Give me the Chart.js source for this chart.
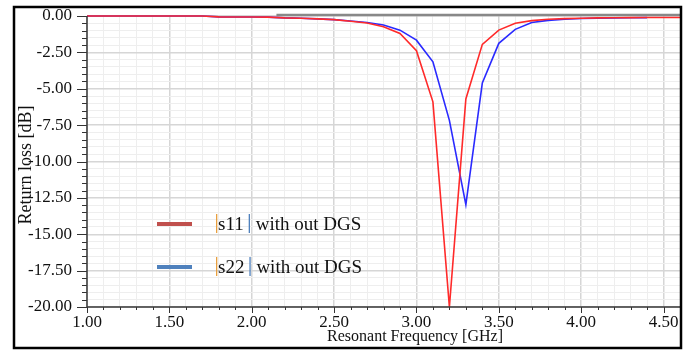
<!DOCTYPE html>
<html>
<head>
<meta charset="utf-8">
<script src="https://cdn.jsdelivr.net/npm/chart.js@4"></script>
<style>
html,body{margin:0;padding:0;background:#fff;}
#wrap{width:691px;height:350px;position:relative;}
</style>
</head>
<body>
<div id="wrap"><canvas id="c" width="691" height="350"></canvas></div>
<script>
// Frequencies (GHz)
const freqS11 = [1.0,1.1,1.2,1.3,1.4,1.5,1.6,1.7,1.8,1.9,2.0,2.1,2.2,2.3,2.4,2.5,2.6,2.7,2.8,2.9,3.0,3.1,3.2,3.3,3.4,3.5,3.6,3.7,3.8,3.9,4.0,4.1,4.2,4.3,4.4,4.5,4.6];
const s11 = [0,0,0,0,0,0,0,0,-0.06,-0.07,-0.07,-0.08,-0.13,-0.15,-0.2,-0.25,-0.36,-0.48,-0.74,-1.2,-2.39,-5.9,-20.0,-5.7,-1.95,-0.97,-0.5,-0.32,-0.22,-0.18,-0.15,-0.13,-0.12,-0.11,-0.1,-0.1,-0.1];
const freqS22 = [1.0,1.1,1.2,1.3,1.4,1.5,1.6,1.7,1.8,1.9,2.0,2.1,2.2,2.3,2.4,2.5,2.6,2.7,2.8,2.9,3.0,3.1,3.2,3.3,3.4,3.5,3.6,3.7,3.8,3.9,4.0,4.1,4.2,4.3,4.4];
const s22 = [0,0,0,0,0,0,0,0,-0.06,-0.07,-0.07,-0.08,-0.13,-0.15,-0.2,-0.25,-0.34,-0.45,-0.62,-0.97,-1.66,-3.15,-7.17,-12.97,-4.6,-1.88,-0.92,-0.45,-0.3,-0.22,-0.17,-0.15,-0.13,-0.12,-0.11];
const xTickLabels = ["1.00","1.50","2.00","2.50","3.00","3.50","4.00","4.50"];
const yTickLabels = ["0.00","-2.50","-5.00","-7.50","-10.00","-12.50","-15.00","-17.50","-20.00"];
const legendLabels = ["s11", "s22"];

const serif = '"Liberation Serif","DejaVu Serif",serif';
const near = (v, step) => Math.abs(v/step - Math.round(v/step)) < 1e-6;

const decor = {
  id: 'decor',
  beforeDatasetsDraw(chart) {
    const {ctx, chartArea: a, scales: {x, y}} = chart;
    ctx.save();
    ctx.strokeStyle = '#888';
    ctx.lineWidth = 2.5;
    ctx.beginPath();
    ctx.moveTo(x.getPixelForValue(2.15), a.top - 1);
    ctx.lineTo(a.right, a.top - 1);
    ctx.stroke();
    ctx.restore();
  },
  afterDraw(chart) {
    const {ctx, chartArea: a, scales: {x, y}} = chart;
    ctx.save();
    ctx.strokeStyle = '#333';
    ctx.lineWidth = 1;
    for (let v = 1.0; v <= 4.6001; v += 0.1) {
      const px = Math.round(x.getPixelForValue(v)) + 0.5;
      const major = near(v, 0.5);
      ctx.beginPath();
      ctx.moveTo(px, a.bottom);
      ctx.lineTo(px, a.bottom + (major ? 6 : 3));
      ctx.stroke();
    }
    for (let v = 0; v >= -20.0001; v -= 0.5) {
      const py = Math.round(y.getPixelForValue(v)) + 0.5;
      const major = near(v, 2.5);
      ctx.beginPath();
      ctx.moveTo(a.left, py);
      ctx.lineTo(a.left - (major ? 10 : 5), py);
      ctx.stroke();
    }
    ctx.strokeStyle = '#3a3a3a';
    ctx.lineWidth = 1.5;
    ctx.beginPath();
    ctx.moveTo(a.left, a.top);
    ctx.lineTo(a.left, a.bottom);
    ctx.lineTo(a.right, a.bottom);
    ctx.stroke();
    ctx.fillStyle = '#111';
    ctx.font = '16px ' + serif;
    ctx.textAlign = 'center';
    ctx.textBaseline = 'middle';
    ctx.fillText('Resonant Frequency [GHz]', 415, 337);
    ctx.save();
    ctx.translate(26, 165);
    ctx.rotate(-Math.PI/2);
    ctx.font = '18px ' + serif;
    ctx.fillText('Return loss [dB]', 0, 0);
    ctx.restore();
    const items = [
      {label: legendLabels[0], color: '#c0504d', y: 224},
      {label: legendLabels[1], color: '#4f81bd', y: 267}
    ];
    ctx.font = '19px ' + serif;
    ctx.textAlign = 'left';
    items.forEach(it => {
      ctx.strokeStyle = it.color;
      ctx.lineWidth = 4;
      ctx.beginPath();
      ctx.moveTo(157, it.y);
      ctx.lineTo(192, it.y);
      ctx.stroke();
      let tx = 216;
      ctx.fillStyle = '#e8a040';
      ctx.fillRect(tx, it.y - 10, 1.3, 19);
      tx += 2;
      ctx.fillStyle = '#111';
      ctx.fillText(it.label, tx, it.y + 1);
      tx += ctx.measureText(it.label).width + 5;
      ctx.fillStyle = '#4f81bd';
      ctx.fillRect(tx, it.y - 10, 1.3, 19);
      tx += 7;
      ctx.fillStyle = '#111';
      ctx.fillText('with out DGS', tx, it.y + 1);
    });
    ctx.strokeStyle = '#000';
    ctx.lineWidth = 2.5;
    ctx.strokeRect(14, 7, 667, 341);
    ctx.restore();
  }
};

new Chart(document.getElementById('c'), {
  type: 'line',
  data: {
    datasets: [
      {label: legendLabels[0], data: freqS11.map((f,i)=>({x:f, y:s11[i]})), borderColor: '#ff2a2a', borderWidth: 1.6, pointRadius: 0, tension: 0, fill: false},
      {label: legendLabels[1], data: freqS22.map((f,i)=>({x:f, y:s22[i]})), borderColor: '#2a2aff', borderWidth: 1.6, pointRadius: 0, tension: 0, fill: false}
    ]
  },
  options: {
    responsive: false,
    animation: false,
    clip: false,
    layout: {padding: {left: 13, right: 11, top: 16, bottom: 0}},
    plugins: {legend: {display: false}, tooltip: {enabled: false}},
    scales: {
      x: {
        type: 'linear', min: 1.0, max: 4.6,
        afterFit(s) { s.height = 43; s.paddingLeft = 0; s.paddingRight = 0; },
        afterBuildTicks(s) { const t=[]; for (let i=0;i<=36;i++) t.push({value: +(1+i*0.1).toFixed(1)}); s.ticks = t; },
        border: {display: false},
        grid: {
          drawTicks: false,
          color: c => near(c.tick.value, 0.5) ? '#d6d6d6' : '#eeeeee',
          lineWidth: c => near(c.tick.value, 0.5) ? 1.5 : 1
        },
        ticks: {
          autoSkip: false, maxRotation: 0, padding: 5,
          color: '#111', font: {family: serif, size: 17},
          callback: v => { if (!near(v,0.5)) return ''; const i = Math.round((v-1)/0.5); return xTickLabels[i] ?? ''; }
        }
      },
      y: {
        type: 'linear', min: -20, max: 0,
        afterFit(s) { s.width = 74; s.paddingTop = 0; s.paddingBottom = 0; },
        afterBuildTicks(s) { const t=[]; for (let i=0;i<=40;i++) t.push({value: -i*0.5}); s.ticks = t; },
        border: {display: false},
        grid: {
          drawTicks: false,
          color: c => near(c.tick.value, 2.5) ? '#d6d6d6' : '#eeeeee',
          lineWidth: c => near(c.tick.value, 2.5) ? 1.5 : 1
        },
        ticks: {
          autoSkip: false, padding: 15,
          color: '#111', font: {family: serif, size: 17},
          callback: v => { if (!near(v,2.5)) return ''; const i = Math.round(-v/2.5); return yTickLabels[i] ?? ''; }
        }
      }
    }
  },
  plugins: [decor]
});
</script>
</body>
</html>
